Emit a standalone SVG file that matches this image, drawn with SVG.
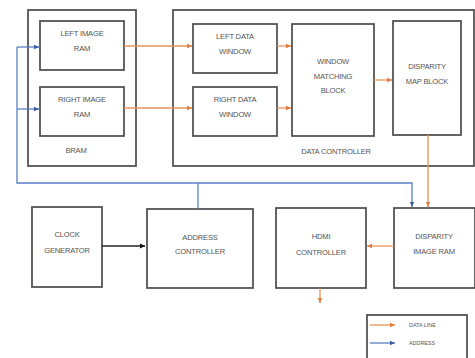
<svg xmlns="http://www.w3.org/2000/svg" width="475" height="358" viewBox="0 0 475 358">
  <style>
    .box { fill: #fff; stroke: #4a4a4a; stroke-width: 1.7; }
    .lbl { font-family: "Liberation Sans", Arial, sans-serif; font-size: 7.6px; fill: #555; text-anchor: middle; letter-spacing: -0.2px; }
    .small { font-size: 5.4px; text-anchor: start; letter-spacing: 0; }
    .data { fill: none; stroke: #e8935a; stroke-width: 1.3; }
    .addr { fill: none; stroke: #5b7fc4; stroke-width: 1.3; }
    .clk { fill: none; stroke: #222; stroke-width: 1.4; }
  </style>
  <defs>
    <marker id="ah-data" markerWidth="6" markerHeight="6" refX="5" refY="3" orient="auto" markerUnits="userSpaceOnUse">
      <path d="M0,0.8 L5,3 L0,5.2 Z" fill="#e07a3c"/>
    </marker>
    <marker id="ah-addr" markerWidth="6" markerHeight="6" refX="5" refY="3" orient="auto" markerUnits="userSpaceOnUse">
      <path d="M0,0.8 L5,3 L0,5.2 Z" fill="#3a5ba8"/>
    </marker>
    <marker id="ah-clk" markerWidth="6" markerHeight="6" refX="5" refY="3" orient="auto" markerUnits="userSpaceOnUse">
      <path d="M0,0.5 L5,3 L0,5.5 Z" fill="#111"/>
    </marker>
  </defs>
  <rect width="475" height="358" fill="#fff"/>

  <!-- container blocks -->
  <g id="bram">
    <rect class="box" x="28" y="10" width="108" height="156"/>
    <text class="lbl" x="76" y="153">BRAM</text>
  </g>
  <g id="data-controller">
    <rect class="box" x="173" y="10" width="301" height="156"/>
    <text class="lbl" x="336" y="154">DATA CONTROLLER</text>
  </g>

  <!-- nodes -->
  <g id="left-image-ram">
    <rect class="box" x="40" y="21" width="84" height="49"/>
    <text class="lbl" x="82" y="36">LEFT IMAGE</text>
    <text class="lbl" x="82" y="51">RAM</text>
  </g>
  <g id="right-image-ram">
    <rect class="box" x="40" y="87" width="84" height="49"/>
    <text class="lbl" x="82" y="102">RIGHT IMAGE</text>
    <text class="lbl" x="82" y="117">RAM</text>
  </g>
  <g id="left-data-window">
    <rect class="box" x="193" y="24" width="84" height="49"/>
    <text class="lbl" x="235" y="39">LEFT DATA</text>
    <text class="lbl" x="235" y="54">WINDOW</text>
  </g>
  <g id="right-data-window">
    <rect class="box" x="193" y="87" width="84" height="49"/>
    <text class="lbl" x="235" y="102">RIGHT DATA</text>
    <text class="lbl" x="235" y="117">WINDOW</text>
  </g>
  <g id="window-matching-block">
    <rect class="box" x="292" y="24" width="82" height="112"/>
    <text class="lbl" x="333" y="64">WINDOW</text>
    <text class="lbl" x="333" y="79">MATCHING</text>
    <text class="lbl" x="333" y="93">BLOCK</text>
  </g>
  <g id="disparity-map-block">
    <rect class="box" x="393" y="21" width="68" height="114"/>
    <text class="lbl" x="427" y="69">DISPARITY</text>
    <text class="lbl" x="427" y="84">MAP BLOCK</text>
  </g>
  <g id="clock-generator">
    <rect class="box" x="32" y="207" width="70" height="80"/>
    <text class="lbl" x="67" y="237">CLOCK</text>
    <text class="lbl" x="67" y="253">GENERATOR</text>
  </g>
  <g id="address-controller">
    <rect class="box" x="147" y="209" width="106" height="79"/>
    <text class="lbl" x="200" y="240">ADDRESS</text>
    <text class="lbl" x="200" y="254">CONTROLLER</text>
  </g>
  <g id="hdmi-controller">
    <rect class="box" x="276" y="208" width="90" height="80"/>
    <text class="lbl" x="321" y="239">HDMI</text>
    <text class="lbl" x="321" y="255">CONTROLLER</text>
  </g>
  <g id="disparity-image-ram">
    <rect class="box" x="394" y="208" width="81" height="80"/>
    <text class="lbl" x="434" y="239">DISPARITY</text>
    <text class="lbl" x="434" y="254">IMAGE RAM</text>
  </g>

  <!-- connectors -->
  <g id="connectors">
    <!-- data lines -->
    <line class="data" x1="124" y1="46" x2="192" y2="46" marker-end="url(#ah-data)"/>
    <line class="data" x1="124" y1="108" x2="192" y2="108" marker-end="url(#ah-data)"/>
    <line class="data" x1="277" y1="46" x2="291" y2="46" marker-end="url(#ah-data)"/>
    <line class="data" x1="277" y1="108" x2="291" y2="108" marker-end="url(#ah-data)"/>
    <line class="data" x1="374" y1="80" x2="392" y2="80" marker-end="url(#ah-data)"/>
    <line class="data" x1="428" y1="135" x2="428" y2="207" marker-end="url(#ah-data)"/>
    <line class="data" x1="394" y1="246" x2="367" y2="246" marker-end="url(#ah-data)"/>
    <line class="data" x1="320" y1="288" x2="320" y2="303" marker-end="url(#ah-data)"/>

    <!-- address bus -->
    <polyline class="addr" points="17,47 17,183 412,183 412,207" marker-end="url(#ah-addr)"/>
    <line class="addr" x1="17" y1="47" x2="39" y2="47" marker-end="url(#ah-addr)"/>
    <line class="addr" x1="17" y1="109" x2="39" y2="109" marker-end="url(#ah-addr)"/>
    <line class="addr" x1="198" y1="183" x2="198" y2="209"/>

    <!-- clock -->
    <line class="clk" x1="102" y1="246" x2="145" y2="246" marker-end="url(#ah-clk)"/>
  </g>

  <!-- legend -->
  <g id="legend">
    <rect class="box" x="367" y="315" width="100" height="50"/>
    <line class="data" x1="370" y1="325" x2="395" y2="325" marker-end="url(#ah-data)"/>
    <text class="lbl small" x="409" y="327">DATA LINE</text>
    <line class="addr" x1="370" y1="343" x2="395" y2="343" marker-end="url(#ah-addr)"/>
    <text class="lbl small" x="409" y="345">ADDRESS</text>
  </g>
</svg>
